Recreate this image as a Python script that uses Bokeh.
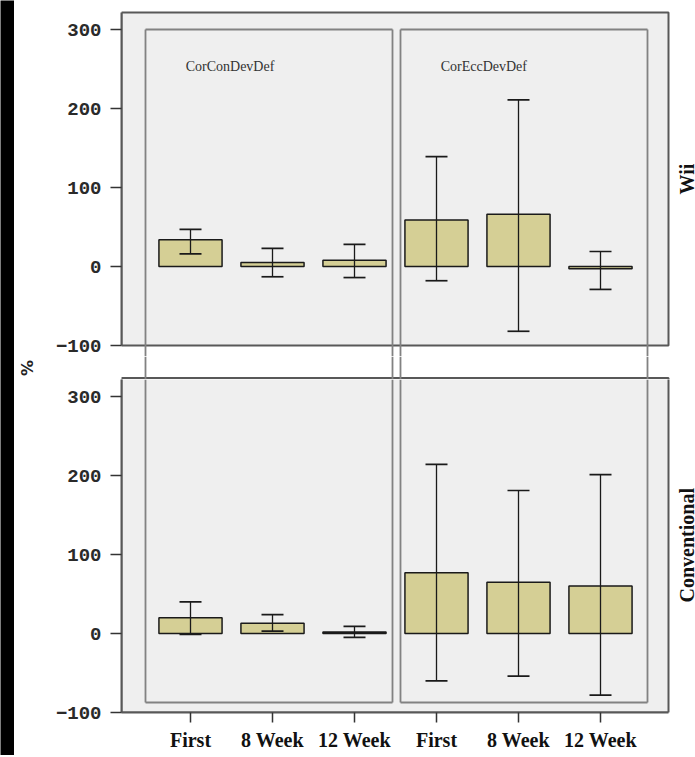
import math
from bokeh.plotting import figure
from bokeh.models import Range1d, FixedTicker, ColumnDataSource, Label
from bokeh.layouts import column, row
from bokeh.embed import file_html
from bokeh.resources import INLINE

# ---------------- data ----------------
time_labels = ["First", "8 Week", "12 Week"]
measures = ["CorConDevDef", "CorEccDevDef"]
groups = ["Wii", "Conventional"]
y_label = "%"

wii_con_mean = [34, 5, 8]
wii_con_upper = [47, 23, 28]
wii_con_lower = [16, -13, -14]
wii_ecc_mean = [59, 66, -3]
wii_ecc_upper = [139, 211, 19]
wii_ecc_lower = [-18, -82, -29]

conv_con_mean = [20, 13, 2]
conv_con_upper = [40, 24, 9]
conv_con_lower = [-1, 3, -5]
conv_ecc_mean = [77, 65, 60]
conv_ecc_upper = [214, 181, 201]
conv_ecc_lower = [-60, -54, -78]

y_ticks = [-100, 0, 100, 200, 300]

# ---------------- style / layout (page pixel geometry) ----------------
PAGE_W, PAGE_H = 695, 755
STRIP_W = 14
MAIN_W = PAGE_W - STRIP_W
PX_X = 82.0          # px per category
X0 = 190.0           # page x of first category
FRAME_L = 121
PANEL_R = 668
PPU = 0.79           # px per % unit
BAR_FILL = "#d5cf95"
PANEL_BG = "#efefef"
PANEL_LINE = "#585858"
COL_LINE = "#828282"
INK = "#1a1a1a"
TICK_FONT = "Liberation Mono"
SERIF = "Liberation Serif"


def px2x(px):
    return (px - X0) / PX_X


def vb(py):  # bottom-panel value at page y
    return -100 + (712 - py) / PPU


x_start, x_end = px2x(FRAME_L), px2x(PAGE_W)
panel_x0, panel_x1 = px2x(FRAME_L), px2x(PANEL_R)
col_left = [px2x(145), px2x(400)]
col_right = [px2x(392), px2x(647)]
xs = list(range(len(time_labels) * len(measures)))

TOP_END, MID_END = 356, 379
top_y_end = 300 + (29 - 9) / PPU
top_y_start = -100 - (TOP_END - 345) / PPU
top_panel_top = 300 + (29 - 12) / PPU
bot_panel_top = vb(377.5)
bot_col_bottom = vb(702)


def base_fig(height, y_range, mb_top, mb_bottom, xloc):
    p = figure(width=MAIN_W, height=height, output_backend="svg", toolbar_location=None,
               x_range=Range1d(x_start, x_end), y_range=y_range,
               x_axis_location=xloc,
               min_border_left=FRAME_L - STRIP_W, min_border_right=0,
               min_border_top=mb_top, min_border_bottom=mb_bottom)
    p.grid.visible = False
    p.outline_line_color = None
    p.background_fill_color = "white"
    p.border_fill_color = "white"
    return p


def style_yaxis(p, top):
    ax = p.yaxis[0]
    ax.ticker = FixedTicker(ticks=y_ticks)
    ax.bounds = (-100, top)
    ax.axis_line_width = 2
    ax.axis_line_color = PANEL_LINE
    ax.major_tick_out = 11
    ax.major_tick_in = 0
    ax.major_tick_line_color = "#333333"
    ax.major_tick_line_width = 1.5
    ax.minor_tick_line_color = None
    ax.major_label_standoff = 9
    ax.major_label_text_font = TICK_FONT
    ax.major_label_text_font_style = "bold"
    ax.major_label_text_font_size = "19px"
    ax.major_label_text_color = "#2a2a2a"


def draw_panel(p, ptop):
    p.quad(left=[panel_x0], right=[panel_x1], bottom=[-100], top=[ptop],
           fill_color=PANEL_BG, line_color=PANEL_LINE, line_width=2)


def draw_cols(p, y_top, y_bottom, top_edge=False, bottom_edge=False):
    # vertical sides of the two measure columns, spanning across the panels
    p.segment(x0=col_left + col_right, y0=[y_bottom] * 4,
              x1=col_left + col_right, y1=[y_top] * 4,
              line_color=COL_LINE, line_width=1.8)
    if top_edge:
        p.segment(x0=col_left, y0=[y_top] * 2, x1=col_right, y1=[y_top] * 2,
                  line_color=COL_LINE, line_width=1.8)
    if bottom_edge:
        p.segment(x0=col_left, y0=[y_bottom] * 2, x1=col_right, y1=[y_bottom] * 2,
                  line_color=COL_LINE, line_width=1.8)


def draw_bars(p, means, uppers, lowers):
    src = ColumnDataSource(dict(x=xs, mean=means, upper=uppers, lower=lowers))
    p.vbar(x="x", top="mean", bottom=0, width=0.77, source=src,
           fill_color=BAR_FILL, line_color=INK, line_width=1.5)
    p.segment(x0="x", y0="lower", x1="x", y1="upper", source=src,
              line_color=INK, line_width=1.3)
    p.scatter(x="x", y="upper", source=src, marker="dash", size=22,
              line_color=INK, line_width=1.7)
    p.scatter(x="x", y="lower", source=src, marker="dash", size=22,
              line_color=INK, line_width=1.7)


def side_label(p, y, text):
    p.add_layout(Label(x=px2x(686), y=y, text=text,
                       angle=math.pi / 2, text_align="center", text_baseline="alphabetic",
                       text_font=SERIF, text_font_style="bold", text_font_size="20px",
                       text_color="#111111"))


# ---------- top (Wii) ----------
pt = base_fig(TOP_END, Range1d(top_y_start, top_y_end), 9, 0, None)
style_yaxis(pt, top_panel_top)
draw_panel(pt, top_panel_top)
draw_cols(pt, 300, top_y_start, top_edge=True)
draw_bars(pt, wii_con_mean + wii_ecc_mean, wii_con_upper + wii_ecc_upper,
          wii_con_lower + wii_ecc_lower)
for i, m in enumerate(measures):
    pt.add_layout(Label(x=col_left[i] + 0.49, y=253, text=m, text_align="left",
                        text_baseline="middle", text_font=SERIF,
                        text_font_size="14px", text_color="#333333"))
side_label(pt, (-100 + top_panel_top) / 2, groups[0])

# ---------- middle strip (gap between panels, y label) ----------
pm = base_fig(MID_END - TOP_END, Range1d(vb(MID_END), vb(TOP_END)), 0, 0, None)
draw_panel(pm, bot_panel_top)
draw_cols(pm, vb(TOP_END), vb(MID_END))
ym = pm.yaxis[0]
ym.ticker = FixedTicker(ticks=[])
ym.axis_line_color = None
ym.major_tick_out = 0
ym.major_tick_in = 0
ym.minor_tick_line_color = None
ym.major_label_text_font_size = "0px"
ym.axis_label = y_label
ym.axis_label_standoff = 85
ym.axis_label_text_font = "DejaVu Sans"
ym.axis_label_text_font_style = "bold"
ym.axis_label_text_font_size = "16px"
ym.axis_label_text_color = "#222222"

# ---------- bottom (Conventional) ----------
pb = base_fig(PAGE_H - MID_END, Range1d(-100, vb(MID_END)), 0, PAGE_H - 712, "below")
style_yaxis(pb, bot_panel_top)
draw_panel(pb, bot_panel_top)
draw_cols(pb, vb(MID_END), bot_col_bottom, bottom_edge=True)
draw_bars(pb, conv_con_mean + conv_ecc_mean, conv_con_upper + conv_ecc_upper,
          conv_con_lower + conv_ecc_lower)
xa = pb.xaxis[0]
xa.ticker = FixedTicker(ticks=xs)
xa.major_label_overrides = {i: lab for i, lab in enumerate(time_labels * len(measures))}
xa.bounds = (panel_x0, panel_x1)
xa.axis_line_width = 2
xa.axis_line_color = PANEL_LINE
xa.major_tick_out = 10
xa.major_tick_in = 0
xa.major_tick_line_color = "#333333"
xa.major_tick_line_width = 1.5
xa.minor_tick_line_color = None
xa.major_label_standoff = 6
xa.major_label_text_font = SERIF
xa.major_label_text_font_style = "bold"
xa.major_label_text_font_size = "20px"
xa.major_label_text_color = "#111111"
side_label(pb, (-100 + bot_panel_top) / 2, groups[1])

# ---------- dark scan edge on the left ----------
strip = figure(width=STRIP_W, height=PAGE_H, output_backend="svg", toolbar_location=None,
               x_axis_location=None, y_axis_location=None,
               min_border=0, min_border_left=0, min_border_right=0,
               min_border_top=0, min_border_bottom=0)
strip.grid.visible = False
strip.outline_line_color = None
strip.background_fill_color = "black"
strip.border_fill_color = "black"

layout = row(strip, column(pt, pm, pb, spacing=0), spacing=0)
open("out.html", "w").write(file_html(layout, INLINE))
